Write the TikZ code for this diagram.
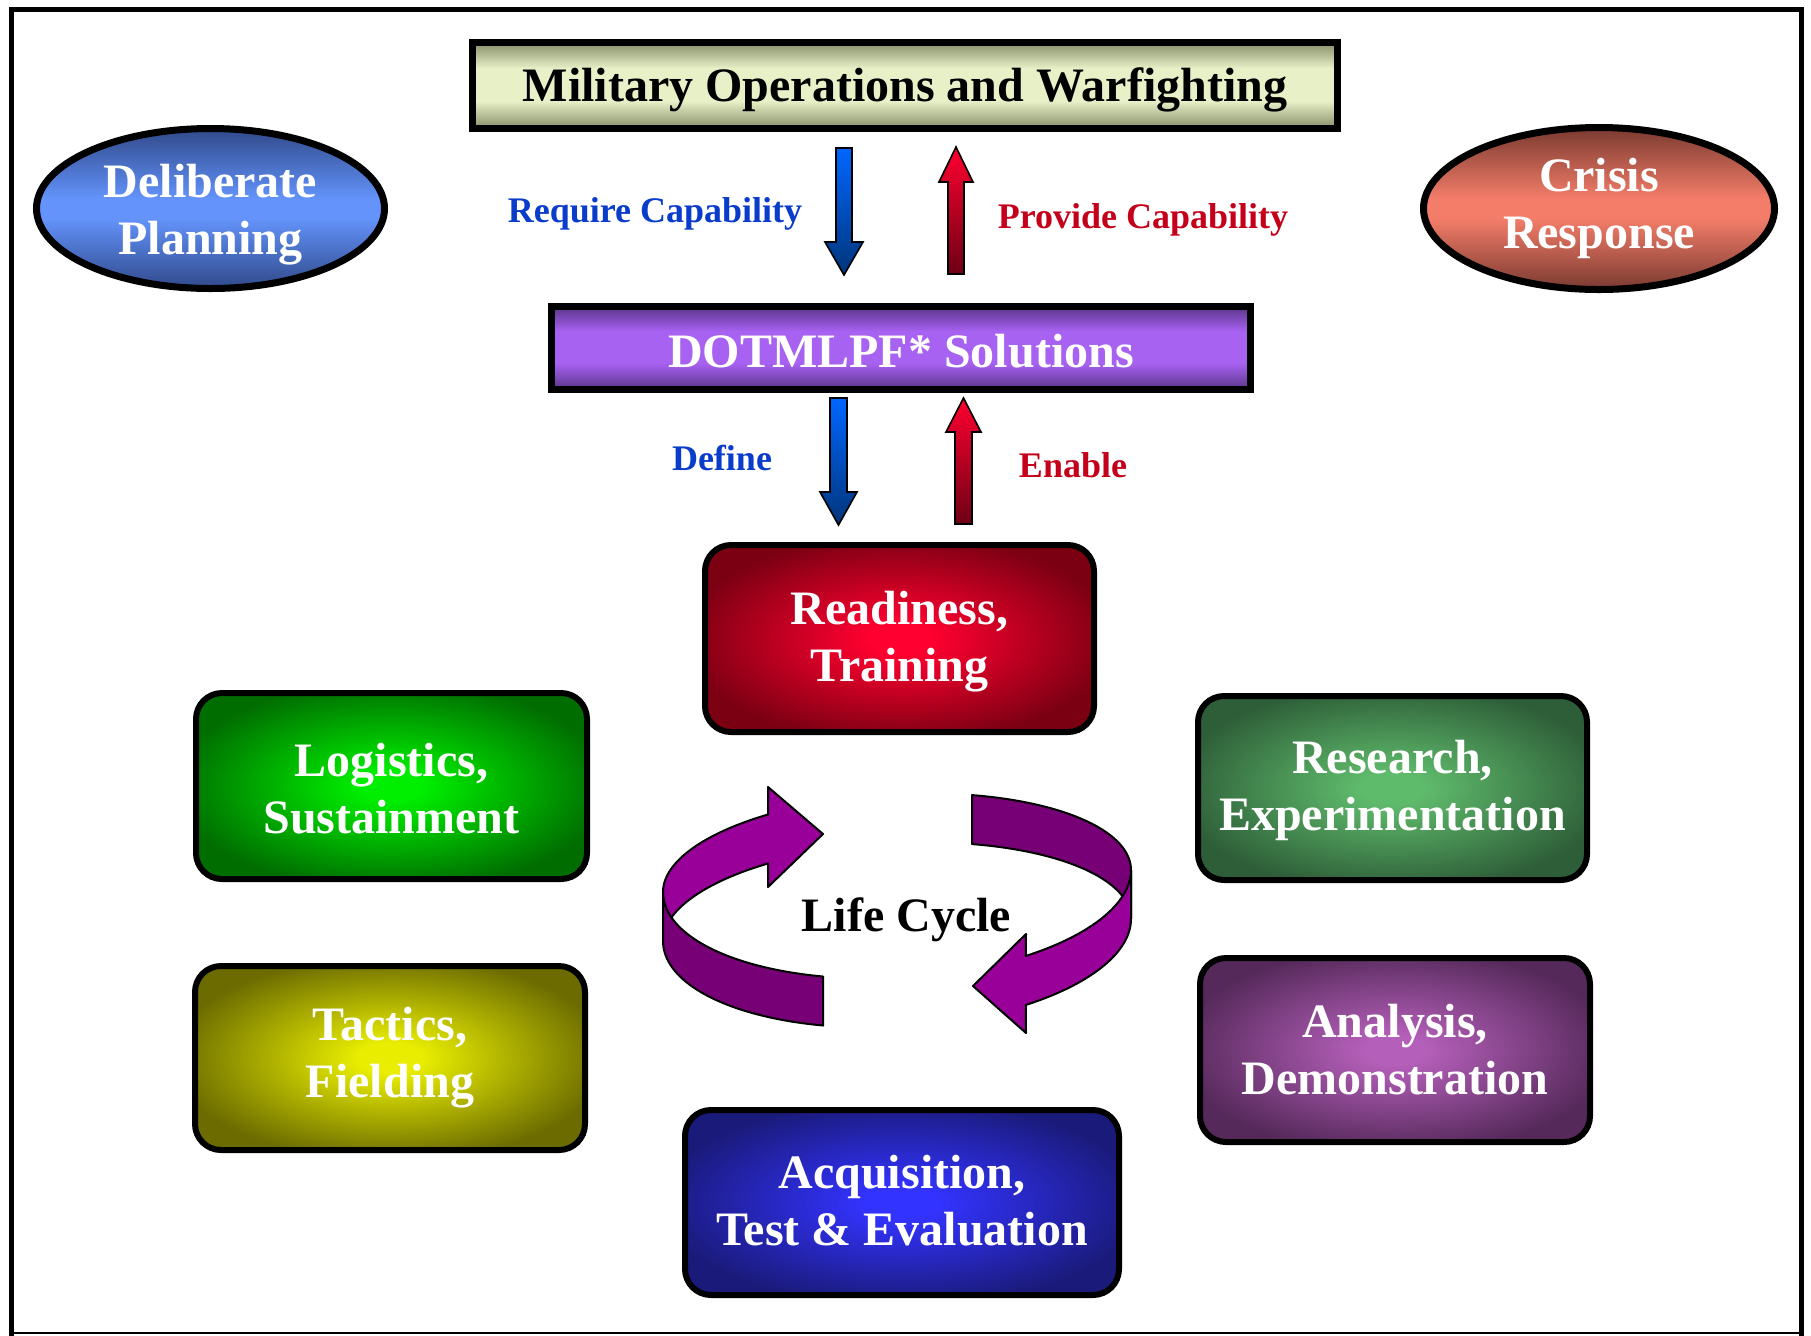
\documentclass[tikz,border=0pt]{standalone}
\usepackage{fontspec}
\setmainfont{Liberation Serif}
\usetikzlibrary{shapes.geometric}
\definecolor{tbend}{HTML}{878E69}
\definecolor{tbmid}{HTML}{E7F0C7}
\definecolor{dpend}{HTML}{5A3488}
\definecolor{dpmid}{HTML}{A862F2}
\definecolor{dbend}{HTML}{30498A}
\definecolor{dbmid}{HTML}{6393FB}
\definecolor{crend}{HTML}{7A3A30}
\definecolor{crmid}{HTML}{F37D69}
\definecolor{reqblue}{HTML}{0A3CCC}
\definecolor{provred}{HTML}{C4001A}
\definecolor{arrblue}{HTML}{0066FF}
\definecolor{arrbluedk}{HTML}{00357A}
\definecolor{arrred}{HTML}{FF0030}
\definecolor{arrreddk}{HTML}{6E0014}
\definecolor{lclight}{HTML}{990099}
\definecolor{lcdark}{HTML}{770077}
\definecolor{rdin}{HTML}{FF0030}\definecolor{rdout}{HTML}{7A0012}
\definecolor{lgin}{HTML}{00EE00}\definecolor{lgout}{HTML}{006D00}
\definecolor{rsin}{HTML}{5FBB6C}\definecolor{rsout}{HTML}{2E5E38}
\definecolor{tcin}{HTML}{E9EE00}\definecolor{tcout}{HTML}{6B6B00}
\definecolor{anin}{HTML}{B45FB9}\definecolor{anout}{HTML}{55295A}
\definecolor{acin}{HTML}{3333FF}\definecolor{acout}{HTML}{1A1A7A}
\colorlet{glowin}{red}\colorlet{glowout}{black}
\colorlet{barend}{black}\colorlet{barmid}{white}
\pgfdeclareradialshading[glowin,glowout]{glow}{\pgfpoint{0bp}{0bp}}{color(0bp)=(glowin); color(4bp)=(glowin); color(28bp)=(glowout); color(50bp)=(glowout)}
\pgfdeclareverticalshading[barend,barmid]{barshade}{100bp}{color(0bp)=(barend); color(25bp)=(barend); color(41bp)=(barmid); color(60bp)=(barmid); color(75bp)=(barend); color(100bp)=(barend)}
\pgfdeclareverticalshading[barend,barmid]{ovalshade}{100bp}{color(0bp)=(barend); color(25bp)=(barend); color(47bp)=(barmid); color(53bp)=(barmid); color(75bp)=(barend); color(100bp)=(barend)}
\newcommand\dualline[3][0pt]{\begin{tabular}{@{}c@{}}\rule{0pt}{\dimexpr19.95pt+#1\relax}#2\\#3\end{tabular}}
\tikzset{
  bigfont/.style={font=\bfseries\fontsize{24}{28.5}\selectfont},
  lblfont/.style={font=\bfseries\fontsize{18}{21}\selectfont},
  glowbox/.style 2 args={/utils/exec={\colorlet{glowin}{#1}\colorlet{glowout}{#2}},
    shade, shading=glow, draw=black, line width=3pt, rounded corners=13pt,
    inner sep=0pt, minimum width=195pt, minimum height=92.5pt, text=white, bigfont},
  barbox/.style 2 args={/utils/exec={\colorlet{barend}{#1}\colorlet{barmid}{#2}},
    shade, shading=barshade, draw=black, line width=3.5pt, inner sep=0pt,
    text depth=0pt, bigfont},
  ovalbox/.style 2 args={/utils/exec={\colorlet{barend}{#1}\colorlet{barmid}{#2}},
    ellipse, shade, shading=ovalshade, draw=black, line width=3.5pt, inner sep=0pt},
  ovaltext/.style={text=white, inner sep=0pt, bigfont},
  bluearrow/.style={draw=black, line width=0.8pt, top color=arrblue, bottom color=arrbluedk, line join=miter},
  redarrow/.style={draw=black, line width=0.8pt, top color=arrred, bottom color=arrreddk, line join=miter},
  ribbon/.style={draw=black, line width=1pt, variable=\t, samples=40, line join=round},
}
\begin{document}
\begin{tikzpicture}[x=0.5pt,y=-0.5pt]
\useasboundingbox (0,0) rectangle (1811,1335);
\fill[white] (0,0) rectangle (1811,1335);
\draw[line width=2.5pt, line cap=rect] (11,1333) -- (11,9) -- (1801.5,9) -- (1801.5,1333);
\draw[line width=1pt] (11,1333) -- (1801.5,1333);

% top bars
\node[barbox={tbend}{tbmid}, minimum width=432.5pt, minimum height=43pt, text height=16pt] (mil) at (905,85.5) {Military Operations and Warfighting};
\node[barbox={dpend}{dpmid}, text=white, minimum width=349.5pt, minimum height=41.5pt, text height=19pt] (dot) at (901,348) {DOTMLPF* Solutions};

% ovals
\node[ovalbox={dbend}{dbmid}, minimum width=174pt, minimum height=80pt] (delib) at (210.5,208.5) {};
\node[ovaltext] (delibT) at (delib.center) {\dualline[6.1pt]{Deliberate}{Planning}};
\node[ovalbox={crend}{crmid}, minimum width=175.5pt, minimum height=81pt] (crisis) at (1599,208.5) {};
\node[ovaltext] (crisisT) at (crisis.center) {\dualline{Crisis}{Response}};

% block arrows between the bars
\filldraw[bluearrow] (836,148) -- (852,148) -- (852,242) -- (863,242) -- (844,275) -- (825,242) -- (836,242) -- cycle;
\filldraw[redarrow] (956,147) -- (973,182) -- (964,182) -- (964,274) -- (948,274) -- (948,182) -- (939,182) -- cycle;
\filldraw[bluearrow] (830,398) -- (847,398) -- (847,492) -- (857,492) -- (838.5,525) -- (820,492) -- (830,492) -- cycle;
\filldraw[redarrow] (963.5,398) -- (981,432) -- (972,432) -- (972,524) -- (955,524) -- (955,432) -- (946,432) -- cycle;

% arrow labels
\node[lblfont, text=reqblue, anchor=base, inner sep=0pt] (req) at (655,222) {Require Capability};
\node[lblfont, text=provred, anchor=base, inner sep=0pt] (prov) at (1143,228) {Provide Capability};
\node[lblfont, text=reqblue, anchor=base, inner sep=0pt] (def) at (722,470) {Define};
\node[lblfont, text=provred, anchor=base, inner sep=0pt] (ena) at (1073,477) {Enable};

% life cycle boxes
\node[glowbox={rdin}{rdout}, minimum width=194.5pt, minimum height=93.5pt] (ready) at (899.5,638.5) {\dualline[2.6pt]{Readiness,}{Training}};
\node[glowbox={lgin}{lgout}, minimum width=195.5pt, minimum height=93pt] (logi) at (391.5,786) {\dualline[7.1pt]{Logistics,}{Sustainment}};
\node[glowbox={rsin}{rsout}, minimum width=194.5pt, minimum height=92pt] (resx) at (1392.5,788) {\dualline[2.1pt]{Research,}{Experimentation}};
\node[glowbox={tcin}{tcout}, minimum width=195pt, minimum height=92pt] (tact) at (390,1058) {\dualline{Tactics,}{Fielding}};
\node[glowbox={anin}{anout}, minimum width=195pt, minimum height=92pt] (anal) at (1395,1050) {\dualline[4.1pt]{Analysis,}{Demonstration}};
\node[glowbox={acin}{acout}, minimum width=217pt, minimum height=92.5pt] (acq) at (902,1202.5) {\dualline[2.6pt]{Acquisition,}{Test \& Evaluation}};

% life cycle ribbons
\filldraw[ribbon, fill=lclight] plot[domain=180:236.6] ({897+234*cos(\t)},{881+87*sin(\t)-11*cos(\t)})
  -- (768,787) -- (823,834) -- (768,887)
  -- plot[domain=236.6:180] ({897+234*cos(\t)},{930+87*sin(\t)-11*cos(\t)}) -- cycle;
\filldraw[ribbon, fill=lcdark] plot[domain=108.4:180] ({897+234*cos(\t)},{881+97*sin(\t)-11*cos(\t)})
  -- plot[domain=180:108.4] ({897+234*cos(\t)},{930+97*sin(\t)-11*cos(\t)}) -- cycle;
\filldraw[ribbon, fill=lcdark] plot[domain=-71.3:0] ({897+234*cos(\t)},{881+87*sin(\t)-11*cos(\t)})
  -- plot[domain=0:-71.3] ({897+234*cos(\t)},{930+87*sin(\t)-11*cos(\t)}) -- cycle;
\filldraw[ribbon, fill=lclight] plot[domain=0:56.6] ({897+234*cos(\t)},{881+97*sin(\t)-11*cos(\t)})
  -- (1026,934) -- (973,986) -- (1026,1033)
  -- plot[domain=56.6:0] ({897+234*cos(\t)},{930+97*sin(\t)-11*cos(\t)}) -- cycle;

\node[bigfont, inner sep=0pt, text height=16pt, text depth=0pt] (life) at (906.5,915.5) {Life Cycle};
\end{tikzpicture}
\end{document}
